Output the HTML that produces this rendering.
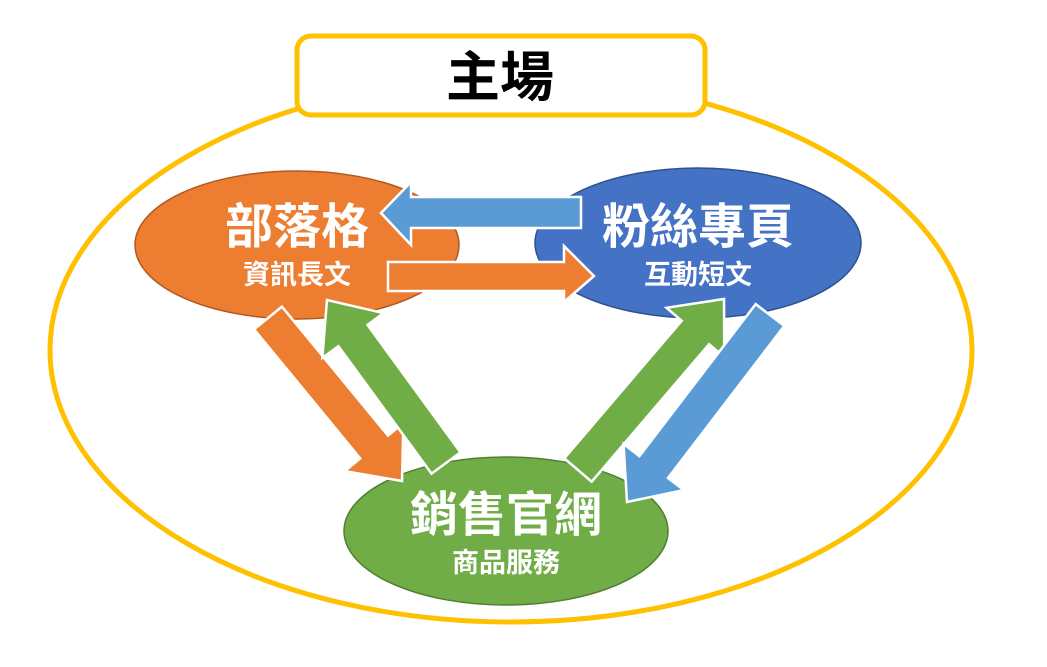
<!DOCTYPE html>
<html><head><meta charset="utf-8"><style>
html,body{margin:0;padding:0;background:#fff;width:1047px;height:667px;overflow:hidden}
svg{display:block}
text{font-family:"Liberation Sans","Noto Sans CJK TC",sans-serif;font-weight:bold;text-anchor:middle}
</style></head><body>
<svg width="1047" height="667" viewBox="0 0 1047 667" xmlns="http://www.w3.org/2000/svg">
<ellipse cx="511" cy="350" rx="461" ry="272" fill="none" stroke="#FFC000" stroke-width="5"/>
<rect x="297" y="36" width="408" height="79" rx="14" fill="#fff" stroke="#FFC000" stroke-width="5"/>
<text x="500" y="96" font-size="54" fill="#000">主場</text>

<ellipse cx="297" cy="245" rx="162" ry="74" fill="#ED7D31" stroke="#AE5A21" stroke-width="1.5"/>
<ellipse cx="698" cy="243" rx="163" ry="75" fill="#4472C4" stroke="#2F528F" stroke-width="1.5"/>
<ellipse cx="506" cy="531" rx="162" ry="74" fill="#70AD47" stroke="#507E32" stroke-width="1.5"/>

<g stroke="#fff" stroke-width="2.5" stroke-linejoin="miter">
<polygon fill="#5B9BD5" points="581,197 411,197 411,182 381,213 411,245 411,228 581,228"/>
<polygon fill="#ED7D31" points="388,262 564,262 564,246 594,276 564,302 564,291 388,291"/>
<g id="arrows"></g>
</g>

<text x="297" y="243" font-size="48" fill="#fff">部落格</text>
<text x="297" y="284" font-size="27" fill="#fff">資訊長文</text>
<text x="698" y="243" font-size="48" fill="#fff">粉絲專頁</text>
<text x="698" y="284" font-size="27" fill="#fff">互動短文</text>
<text x="506" y="531" font-size="48" fill="#fff">銷售官網</text>
<text x="506" y="572" font-size="27" fill="#fff">商品服務</text>
</svg>
<script>
function arrow(tx,ty,hx,hy,w,hw,hl,fill){
 var dx=hx-tx,dy=hy-ty,L=Math.hypot(dx,dy),ux=dx/L,uy=dy/L,px=-uy,py=ux;
 var bx=hx-ux*hl,by=hy-uy*hl;
 var p=[[tx+px*w/2,ty+py*w/2],[bx+px*w/2,by+py*w/2],[bx+px*hw/2,by+py*hw/2],[hx,hy],[bx-px*hw/2,by-py*hw/2],[bx-px*w/2,by-py*w/2],[tx-px*w/2,ty-py*w/2]];
 return '<polygon fill="'+fill+'" points="'+p.map(function(a){return a[0].toFixed(1)+','+a[1].toFixed(1)}).join(' ')+'"/>';
}
document.getElementById('arrows').innerHTML=
 arrow(268,318,402,481,36,76,44,'#ED7D31')+
 arrow(446,463,327,300,36,76,44,'#70AD47')+
 arrow(578,470,724,299,36,76,44,'#70AD47')+
 arrow(770,315,627,502,36,76,44,'#5B9BD5');
</script>
</body></html>
